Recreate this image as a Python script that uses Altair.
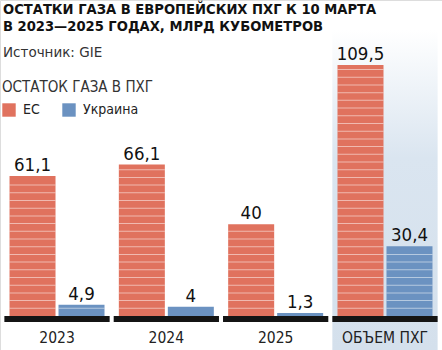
import altair as alt
import pandas as pd

categories = ["2023", "2024", "2025", "ОБЪЕМ ПХГ"]
series = ["ЕС", "Украина"]
eu_values = [61.1, 66.1, 40.0, 109.5]
ua_values = [4.9, 4.0, 1.3, 30.4]
colors = ["#e0725e", "#6b92c1"]
title_lines = ["ОСТАТКИ ГАЗА В ЕВРОПЕЙСКИХ ПХГ К 10 МАРТА", "В 2023—2025 ГОДАХ, МЛРД КУБОМЕТРОВ"]
source_text = "Источник: GIE"
legend_title = "ОСТАТОК ГАЗА В ПХГ"
highlight = "ОБЪЕМ ПХГ"

FONT = "DejaVu Sans Condensed, Liberation Sans Narrow, Roboto, sans-serif"
FONT_WIDE = "DejaVu Sans, Roboto, sans-serif"

rows = []
for c, e, u in zip(categories, eu_values, ua_values):
    rows.append(dict(cat=c, series=series[0], value=e))
    rows.append(dict(cat=c, series=series[1], value=u))
df = pd.DataFrame(rows)
df["label"] = df["value"].map(lambda v: f"{v:g}".replace(".", ","))

# decorative horizontal stripes inside bars
stripe_step = 3.36
srows = []
for r in rows:
    k = 1
    while k * stripe_step < r["value"] - 1.5:
        srows.append(dict(cat=r["cat"], series=r["series"], value=k * stripe_step))
        k += 1
sdf = pd.DataFrame(srows)

cat_df = pd.DataFrame({"cat": categories})
hl_df = pd.DataFrame({"cat": [highlight]})

x_enc = alt.X("cat:N", sort=categories,
              scale=alt.Scale(domain=categories, paddingInner=0.037, paddingOuter=0.04),
              axis=None)
xo_enc = alt.XOffset("series:N",
                     scale=alt.Scale(domain=series, paddingInner=0.061, paddingOuter=0.105))
y_scale = alt.Scale(domain=[-14.83, 137.87])
y_enc = alt.Y("value:Q", scale=y_scale, axis=None)

panel = alt.Chart(hl_df).mark_rect(
    color=alt.Gradient(
        gradient="linear", x1=0, x2=0, y1=0, y2=1,
        stops=[alt.GradientStop(offset=0, color="#ffffff"),
               alt.GradientStop(offset=0.4, color="#dae5f0"),
               alt.GradientStop(offset=1, color="#d4e0ec")]
    )
).encode(x=x_enc, y=alt.value(30), y2=alt.value(350))

base = alt.Chart(cat_df).mark_bar(color="#141414").encode(
    x=x_enc, y=alt.value(316), y2=alt.value(322)
)

bars = alt.Chart(df).mark_bar().encode(
    x=x_enc, xOffset=xo_enc, y=y_enc, y2=alt.datum(0),
    color=alt.Color("series:N",
                    scale=alt.Scale(domain=series, range=colors),
                    legend=alt.Legend(
                        orient="none", legendX=2, legendY=80,
                        direction="horizontal", title=legend_title,
                        titleFont=FONT, titleFontSize=15, titleFontWeight="normal",
                        titleColor="#333333", titlePadding=8, titleLimit=400,
                        labelFont=FONT, labelFontSize=14, labelColor="#222222",
                        symbolType="square", symbolSize=180, symbolStrokeWidth=0,
                        symbolOpacity=1, labelOffset=7, columnPadding=22)),
)

stripes = alt.Chart(sdf).mark_tick(
    color="#ffffff", opacity=0.5, thickness=1, size=46, orient="horizontal"
).encode(x=x_enc, xOffset=xo_enc, y=y_enc)

value_labels = alt.Chart(df).mark_text(
    dy=-5, baseline="alphabetic", fontSize=18.5, font=FONT, fontWeight=500, color="#111111"
).encode(x=x_enc, xOffset=xo_enc, y=y_enc, text="label:N")

cat_labels = alt.Chart(cat_df).mark_text(
    baseline="alphabetic", fontSize=15.5, font=FONT, color="#222222"
).encode(x=x_enc, y=alt.value(343), text="cat:N")

title = alt.Chart(pd.DataFrame({"t": [0]})).mark_text(
    text=title_lines, lineHeight=17,
    align="left", baseline="alphabetic", fontSize=14.6, fontWeight="bold", font=FONT, color="#111111"
).encode(x=alt.value(3), y=alt.value(14))
src = alt.Chart(pd.DataFrame({"t": [source_text]})).mark_text(
    align="left", baseline="alphabetic", fontSize=13.5, font=FONT_WIDE, color="#333333"
).encode(x=alt.value(3), y=alt.value(56.5), text="t:N")

chart = alt.layer(panel, base, bars, stripes, value_labels, cat_labels, title, src).properties(
    width=442, height=350,
    autosize=alt.AutoSizeParams(type="none"),
    padding={"left": 0, "top": 0, "right": 0, "bottom": 0},
).configure_view(stroke=None).configure(background="#ffffff")

chart.save("out.html", embed_options={"renderer": "svg", "actions": False})
